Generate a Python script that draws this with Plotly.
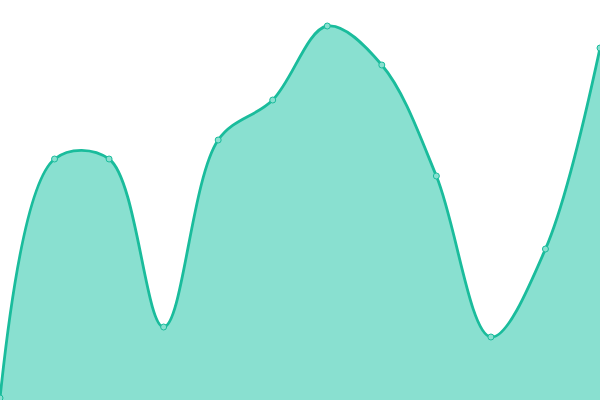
import plotly.graph_objects as go

# one point every 54.5 px across the 600 px wide plot
steps = list(range(12))
values = [2, 241, 241, 73, 260, 300, 374, 335, 224, 63, 151, 352]

line_color = "#1abc9c"
fill_color = "#89e0d0"

area = go.Scatter(
    x=steps,
    y=values,
    mode="lines+markers",
    line=dict(color=line_color, width=2.8, shape="spline", smoothing=1),
    marker=dict(size=6, color=fill_color, line=dict(color=line_color, width=1)),
    fill="tozeroy",
    fillcolor=fill_color,
    showlegend=False,
    hoverinfo="skip",
)

fig = go.Figure(data=[area])
fig.update_layout(
    width=600,
    height=400,
    margin=dict(l=0, r=0, t=0, b=0),
    paper_bgcolor="white",
    plot_bgcolor="white",
    xaxis=dict(visible=False, range=[0, 11]),
    yaxis=dict(visible=False, range=[0, 400]),
)
# drop the page's default body margin so the plot sits in the corner
fig.write_html(
    "out.html",
    config={"displayModeBar": False},
    post_script="document.body.style.margin='0';",
)
